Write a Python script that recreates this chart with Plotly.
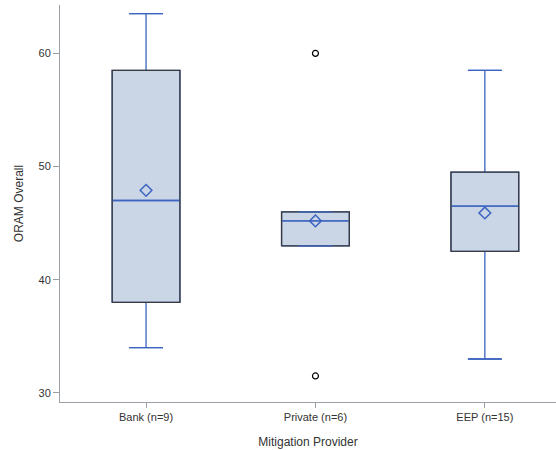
import plotly.graph_objects as go

categories = ["Bank (n=9)", "Private (n=6)", "EEP (n=15)"]
q1 = [38.0, 43.0, 42.5]
median = [47.0, 45.2, 46.5]
q3 = [58.5, 46.0, 49.5]
lower_whisker = [34.0, 43.0, 33.0]
upper_whisker = [63.5, 46.0, 58.5]
means = [47.9, 45.2, 45.9]
outlier_x = [1, 1]
outlier_y = [60.0, 31.5]
yticks = [30, 40, 50, 60]

pos = list(range(len(categories)))
BW = 0.4
CAP = 0.1
BLUE = "#3C64C0"
GRAY_BORDER = "#3A3A3A"
FILL = "#CAD5E6"

fig = go.Figure()
fig.add_trace(go.Box(
    x=pos, q1=q1, median=median, q3=q3,
    lowerfence=lower_whisker, upperfence=upper_whisker,
    width=BW, whiskerwidth=0.5,
    fillcolor=FILL, line=dict(color=BLUE, width=1.3),
    boxpoints=False, showlegend=False, hoverinfo="skip",
))

# box outlines in dark gray
ox, oy = [], []
for i, a, b in zip(pos, q1, q3):
    ox += [i - BW / 2, i + BW / 2, i + BW / 2, i - BW / 2, i - BW / 2, None]
    oy += [a, a, b, b, a, None]
fig.add_trace(go.Scatter(x=ox, y=oy, mode="lines",
                         line=dict(color=GRAY_BORDER, width=1.3),
                         showlegend=False, hoverinfo="skip"))

# median and caps redrawn in blue on top
mx, my = [], []
for i, m in zip(pos, median):
    mx += [i - BW / 2 + 0.004, i + BW / 2 - 0.004, None]
    my += [m, m, None]
for i, lo, hi in zip(pos, lower_whisker, upper_whisker):
    mx += [i - CAP, i + CAP, None, i - CAP, i + CAP, None]
    my += [lo, lo, None, hi, hi, None]
fig.add_trace(go.Scatter(x=mx, y=my, mode="lines",
                         line=dict(color=BLUE, width=1.3),
                         showlegend=False, hoverinfo="skip"))

fig.add_trace(go.Scatter(x=pos, y=means, mode="markers",
                         marker=dict(symbol="diamond-open", size=9,
                                     color=BLUE, line=dict(width=1.5, color=BLUE)),
                         showlegend=False))
fig.add_trace(go.Scatter(x=outlier_x, y=outlier_y, mode="markers",
                         marker=dict(symbol="circle-open", size=6,
                                     color="black", line=dict(width=1.2, color="black")),
                         showlegend=False))

axis_font = dict(family="Liberation Sans, Arial, sans-serif", size=11, color="#333333")
fig.update_layout(
    width=556, height=450,
    margin=dict(l=60, r=0, t=5, b=48),
    paper_bgcolor="white", plot_bgcolor="white",
    font=axis_font,
    xaxis=dict(range=[-0.508, 2.42], tickvals=pos, ticktext=categories,
               showline=True, linecolor="#9AA0A6", linewidth=1,
               ticks="outside", ticklen=5, tickcolor="#9AA0A6",
               showgrid=False, zeroline=False, automargin=False,
               title=dict(text="Mitigation Provider", standoff=15,
                          font=dict(size=12, color="#333333"))),
    yaxis=dict(range=[29.2, 64.27], tickvals=yticks,
               showline=True, linecolor="#9AA0A6", linewidth=1,
               ticks="outside", ticklen=6, tickcolor="#9AA0A6",
               showgrid=False, zeroline=False, automargin=False,
               title=dict(text="ORAM Overall", standoff=12,
                          font=dict(size=12, color="#333333"))),
)
fig.write_html("out.html", config={"displayModeBar": False},
               post_script="document.body.style.margin='0px';")
